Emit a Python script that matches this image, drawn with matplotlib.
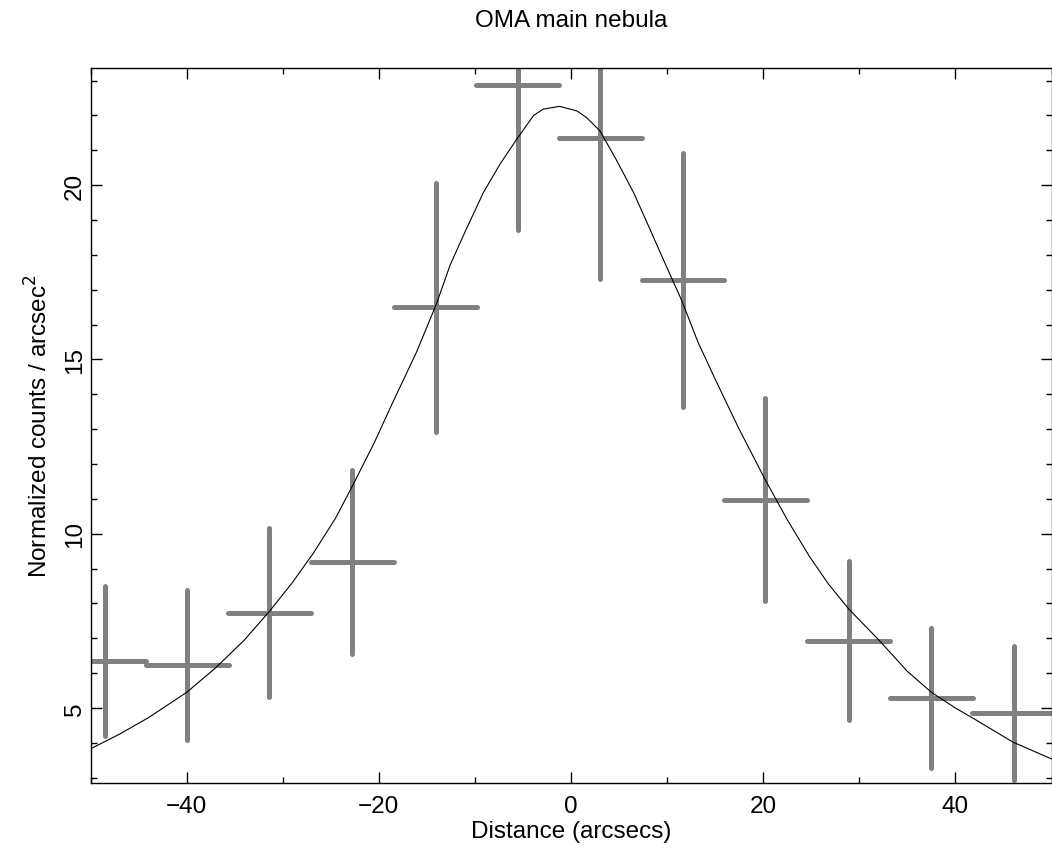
import matplotlib
matplotlib.use('Agg')
import matplotlib.pyplot as plt
from matplotlib.ticker import MultipleLocator

# binned radial profile
distance = [-48.5, -39.94, -31.41, -22.77, -14.10, -5.57, 3.03, 11.63, 20.23, 28.90, 37.50, 46.07]
half_bin = [4.3, 4.3, 4.3, 4.3, 4.3, 4.3, 4.3, 4.3, 4.3, 4.3, 4.3, 4.3]
counts = [6.36, 6.23, 7.74, 9.20, 16.49, 22.88, 21.34, 17.28, 10.97, 6.93, 5.28, 4.85]
count_err = [2.15, 2.16, 2.42, 2.64, 3.56, 4.16, 4.04, 3.64, 2.91, 2.28, 2.01, 1.92]

# fitted model curve
model_x = [-50.0, -47.0, -44.0, -40.0, -37.0, -34.0, -31.4, -29.0, -26.8, -24.5, -22.7,
           -20.5, -18.5, -16.1, -14.0, -12.6, -10.9, -9.1, -7.4, -5.7, -3.9, -2.9,
           -1.2, 0.6, 1.6, 3.0, 4.7, 6.5, 8.2, 9.9, 11.5, 13.2, 15.0, 17.4, 20.2,
           22.5, 24.8, 26.8, 28.9, 32.1, 35.0, 37.5, 40.0, 42.0, 44.0, 46.0, 48.0, 50.0]
model_y = [3.83, 4.25, 4.72, 5.45, 6.15, 6.95, 7.77, 8.6, 9.45, 10.45, 11.4,
           12.6, 13.8, 15.2, 16.6, 17.7, 18.74, 19.8, 20.6, 21.3, 22.0, 22.18,
           22.26, 22.13, 21.94, 21.56, 20.73, 19.79, 18.74, 17.68, 16.7, 15.5, 14.43, 13.05, 11.55,
           10.4, 9.35, 8.55, 7.84, 6.93, 6.05, 5.45, 5.0, 4.68, 4.35, 4.02, 3.78, 3.54]


def main():
    plt.rcParams['font.family'] = ['Liberation Sans', 'DejaVu Sans']
    fig = plt.figure(figsize=(10.52, 8.53), dpi=100)
    ax = fig.add_axes([0.0861, 0.0809, 0.9135, 0.8382])

    eb = ax.errorbar(distance, counts, xerr=half_bin, yerr=count_err, fmt='none',
                     ecolor='#808080', elinewidth=3.6, capsize=0)
    for coll in eb[2]:
        coll.set_capstyle('round')
    ax.plot(model_x, model_y, color='black', linewidth=0.8)

    ax.set_xlim(-50, 50)
    ax.set_ylim(2.85, 23.36)
    ax.xaxis.set_major_locator(MultipleLocator(20))
    ax.xaxis.set_minor_locator(MultipleLocator(10))
    ax.yaxis.set_major_locator(MultipleLocator(5))
    ax.yaxis.set_minor_locator(MultipleLocator(1))
    ax.tick_params(which='both', direction='in', top=True, right=True, width=1.0)
    ax.tick_params(which='major', length=8, labelsize=17.5)
    ax.tick_params(which='minor', length=4)
    ax.tick_params(axis='x', pad=9)
    for lbl in ax.get_yticklabels():
        lbl.set_rotation(90)
        lbl.set_va('center')
    for s in ax.spines.values():
        s.set_linewidth(1.0)

    ax.set_xlabel('Distance (arcsecs)', fontsize=17.5, labelpad=2)
    ax.set_ylabel('Normalized counts / arcsec$^2$', fontsize=17.5, labelpad=8)
    ax.set_title('OMA main nebula', fontsize=17.5, pad=30)

    fig.savefig('out.png', dpi=100)


if __name__ == '__main__':
    main()
